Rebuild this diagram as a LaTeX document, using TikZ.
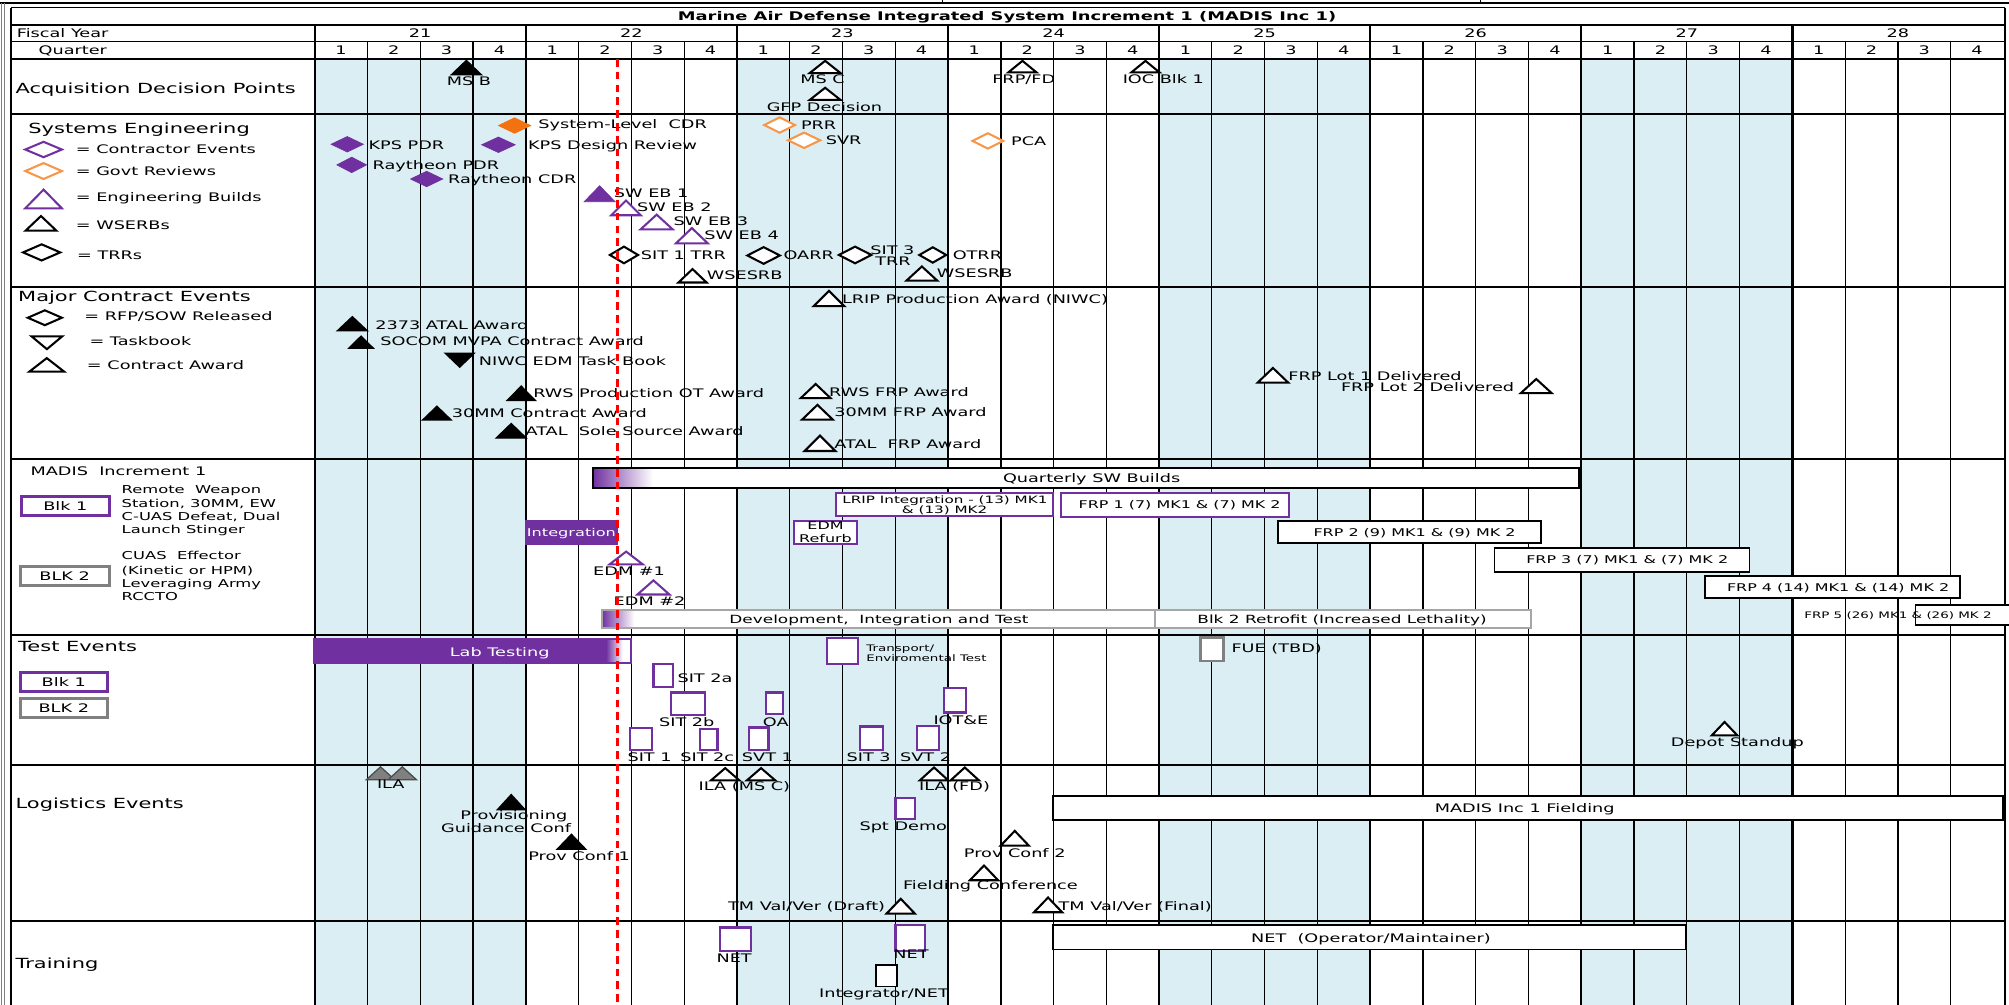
\documentclass[tikz,border=0pt]{standalone}
\usepackage{fontspec}
\setmainfont[FakeStretch=1.5]{DejaVu Sans}
\definecolor{purp}{HTML}{7030A0}
\definecolor{lblue}{HTML}{DAEEF3}
\definecolor{orng}{HTML}{F79646}
\definecolor{orngf}{HTML}{F27212}
\definecolor{gry}{HTML}{808080}
\definecolor{lgry}{HTML}{A6A6A6}
\newcommand{\mtri}[5][]{\draw[#1] ({#2-#4},{#3+#5}) -- (#2,#3) -- ({#2+#4},{#3+#5}) -- cycle;}
\newcommand{\mdtri}[5][]{\draw[#1] ({#2-#4},#3) -- ({#2+#4},#3) -- (#2,{#3+#5}) -- cycle;}
\newcommand{\mdia}[5][]{\draw[#1] ({#2-#4},#3) -- (#2,{#3-#5}) -- ({#2+#4},#3) -- (#2,{#3+#5}) -- cycle;}
\begin{document}
\begin{tikzpicture}[x=1pt,y=-1pt,
  lbl/.style={font=\fontsize{9.2}{10}\selectfont, inner sep=0pt, text height=6.7pt, text depth=0pt, anchor=west},
  clbl/.style={lbl, anchor=center},
  rlbl/.style={lbl, anchor=east},
  hdr/.style={font=\fontsize{10.9}{12}\selectfont, inner sep=0pt, text height=7.95pt, text depth=0pt, anchor=west},
  smd/.style={font=\fontsize{8.3}{9}\selectfont, inner sep=0pt, text height=6.05pt, text depth=0pt, anchor=center},
  sml/.style={font=\fontsize{7}{8}\selectfont, inner sep=0pt, text height=5.1pt, text depth=0pt, anchor=west},
  ttl/.style={font=\bfseries\fontsize{9.3}{10}\selectfont, inner sep=0pt, text height=6.8pt, text depth=0pt, anchor=center},
  blk/.style={fill=black, draw=black, line width=0.8pt},
  opn/.style={draw=black, fill=white, line width=1.6pt},
  popn/.style={draw=purp, fill=white, line width=1.6pt},
  pfil/.style={fill=purp, draw=purp, line width=0.6pt},
  oopn/.style={draw=orng, fill=white, line width=1.6pt},
  ofil/.style={fill=orngf, draw=orngf, line width=0.6pt},
  gtri/.style={fill=gray, draw=black!70, line width=1pt},
  pbox/.style={draw=purp, fill=white, line width=1.8pt},
  kbox/.style={draw=black, fill=white, line width=1.4pt},
  gbox/.style={draw=gry, fill=white, line width=1.8pt},
  qline/.style={line width=0.9pt},
  yline/.style={line width=1.8pt},
  sline/.style={line width=1.6pt}
]
\useasboundingbox (0,0) rectangle (1568,784);
\fill[white] (0,0) rectangle (1568,784);
% shading of alternate years
\foreach \k in {0,2,4,6} {\fill[lblue] ({245.6+\k*4*41.19},46) rectangle ({245.6+(\k*4+4)*41.19},784);}
% outer frame
\draw[line width=1.4pt] (0,2.6) -- (1568,2.6);
\draw[line width=0.8pt] (735.5,0) -- (735.5,2.6);
\draw[line width=0.8pt] (1155.8,0) -- (1155.8,2.6);
\draw[gry, line width=0.8pt] (1,2.6) -- (1,784);
\draw[gry, line width=0.8pt] (3.6,2.6) -- (3.6,784);
% quarter lines
\foreach \i in {1,...,31} {\draw[qline] ({245.6+\i*41.19},32.5) -- ({245.6+\i*41.19},784);}
\foreach \i in {13,14} {\draw[line width=1.4pt] ({245.6+\i*41.19},32.5) -- ({245.6+\i*41.19},784);}
\foreach \i in {0,4,8,12,16,20,24,28} {\draw[yline] ({245.6+\i*41.19},19.5) -- ({245.6+\i*41.19},784);}
% horizontal lines
\draw[line width=1.2pt] (8.7,6) -- (1564.7,6);
\draw[line width=1.4pt] (8.7,19.5) -- (1564.7,19.5);
\draw[line width=1.2pt] (8.7,32.5) -- (1564.7,32.5);
\foreach \yy in {46,89,224,358.5,495.6,597,719} {\draw[sline] (8.7,\yy) -- (1564.7,\yy);}
\draw[line width=1.4pt] (8.7,6) -- (8.7,784);
\draw[line width=1.4pt] (1564.7,6) -- (1564.7,784);
% header texts
\node[ttl] (title) at (786,12.8) {Marine Air Defense Integrated System Increment 1 (MADIS Inc 1)};
\node[lbl] (fyl) at (13,26) {Fiscal Year};
\node[lbl] (qtl) at (30,39.2) {Quarter};
\foreach \yr [count=\k from 0] in {21,...,28} {\node[clbl] (fy\yr) at ({245.6+(\k*4+2)*41.19},26) {\yr};}
\foreach \i in {0,...,31} {\pgfmathtruncatemacro\qn{mod(\i,4)+1}\node[clbl] (q\i) at ({245.6+(\i+0.5)*41.19},39.2) {\qn};}
% section headings
\node[hdr] (hadp) at (12,69) {Acquisition Decision Points};
\node[hdr] (hse) at (22,100) {Systems Engineering};
\node[hdr] (hmce) at (14,231.5) {Major Contract Events};
\node[lbl] (hmadis) at (23.7,367.6) {MADIS\ \ Increment 1};
\node[hdr] (hte) at (14,504.7) {Test Events};
\node[hdr] (hle) at (12,627) {Logistics Events};
\node[hdr] (htr) at (12,752) {Training};
% ===== Acquisition Decision Points
\mtri[blk]{364}{47}{12}{11.5}
\node[clbl] (msb) at (366,63) {MS B};
\mtri[opn]{644}{47.5}{12}{9.5}
\node[clbl] (msc) at (642,62) {MS C};
\mtri[opn]{644}{68.5}{12}{9.5}
\node[clbl] (gfp) at (643.5,84) {GFP Decision};
\mtri[opn]{798}{47.5}{11}{9}
\node[clbl] (frpfd) at (799,62) {FRP/FD};
\mtri[opn]{894}{47.5}{11}{9}
\node[clbl] (ioc) at (908,62) {IOC Blk 1};
% ===== Systems Engineering legend
\mdia[popn]{34}{116.7}{14.3}{6}
\node[lbl] (lg1) at (59,116.7) {= Contractor Events};
\mdia[oopn]{34}{133.5}{14.3}{6.2}
\node[lbl] (lg2) at (59,133.5) {= Govt Reviews};
\mtri[popn]{34}{148}{14.3}{14.6}
\node[lbl] (lg3) at (59,154) {= Engineering Builds};
\mtri[opn]{32}{168.6}{12}{11.4}
\node[lbl] (lg4) at (59,175.6) {= WSERBs};
\mdia[opn]{32.5}{197}{14.5}{6.3}
\node[lbl] (lg5) at (60,199) {= TRRs};
% SE items
\mdia[ofil]{401.6}{98}{12.5}{6}
\node[lbl] (slcdr) at (420,97) {System-Level\ \ CDR};
\mdia[pfil]{271}{112.6}{12.5}{6}
\node[lbl] (kpspdr) at (287.5,113) {KPS PDR};
\mdia[pfil]{389}{113}{13}{6}
\node[lbl] (kpsdr) at (412,113) {KPS Design Review};
\mdia[pfil]{274.5}{128.7}{11.5}{6}
\node[lbl] (rpdr) at (290.7,128.8) {Raytheon PDR};
\mdia[pfil]{333}{139.7}{12.5}{6}
\node[lbl] (rcdr) at (349.6,139.7) {Raytheon CDR};
\mtri[pfil]{468}{145}{12}{12.4}
\node[lbl] (eb1) at (479,151) {SW EB 1};
\mtri[popn]{488.6}{156.5}{11.5}{11.5}
\node[lbl] (eb2) at (497,161.8) {SW EB 2};
\mtri[popn]{512.5}{167.5}{12.5}{11.5}
\node[lbl] (eb3) at (525.6,172.5) {SW EB 3};
\mtri[popn]{540}{178}{12.5}{12}
\node[lbl] (eb4) at (549.5,183.4) {SW EB 4};
\mdia[opn]{487}{199}{11}{6.5}
\node[lbl] (sit1trr) at (500,199) {SIT 1 TRR};
\mdia[opn]{596}{199.4}{12.7}{6.5}
\node[lbl] (oarr) at (611.4,199.4) {OARR};
\mdia[opn]{667.4}{199}{12.7}{6.5}
\node[clbl] (sit3a) at (696.5,195) {SIT 3};
\node[clbl] (sit3b) at (697,204.2) {TRR};
\mdia[opn]{728}{199}{10.5}{6}
\node[lbl] (otrr) at (743.4,199) {OTRR};
\mtri[opn]{540.5}{210}{11}{10.5}
\node[lbl] (wsesrb1) at (551.5,214.6) {WSESRB};
\mtri[opn]{719.5}{208}{12}{11}
\node[lbl] (wsesrb2) at (731,213.3) {WSESRB};
\mdia[oopn]{608.5}{97.6}{12}{6}
\node[lbl] (prr) at (625,97.6) {PRR};
\mdia[oopn]{627.6}{109.5}{12.5}{6}
\node[lbl] (svr) at (644.3,109.3) {SVR};
\mdia[oopn]{771}{110}{12}{6}
\node[lbl] (pca) at (789,110) {PCA};
% ===== Major Contract Events legend
\mdia[opn]{35}{248}{13.3}{5.8}
\node[lbl] (mlg1) at (65.7,247) {= RFP/SOW Released};
\mdtri[opn]{36.6}{262.5}{12}{10}
\node[lbl] (mlg2) at (69.7,266.6) {= Taskbook};
\mtri[opn]{36.5}{279.5}{13.5}{10.5}
\node[lbl] (mlg3) at (67.7,284.9) {= Contract Award};
% MCE items
\mtri[blk]{275}{247}{12}{11.3}
\node[lbl] (atal2373) at (292.7,253.6) {2373 ATAL Award};
\mtri[blk]{281.8}{262.2}{9.75}{9.6}
\node[lbl] (socom) at (296.7,266) {SOCOM MVPA Contract Award};
\mdtri[blk]{358.8}{275.7}{11.5}{11}
\node[lbl] (niwc) at (373.5,281.7) {NIWC EDM Task Book};
\mtri[blk]{406.8}{301.2}{11.3}{11.5}
\node[lbl] (rwsot) at (416,307) {RWS Production OT Award};
\mtri[blk]{341}{316.9}{11.3}{10.9}
\node[lbl] (mm30) at (352.4,322.6) {30MM Contract Award};
\mtri[blk]{399}{330.4}{12}{11.6}
\node[lbl] (atalss) at (410,336.9) {ATAL\ \ Sole Source Award};
\mtri[opn]{647}{227}{12}{12}
\node[lbl] (lrip) at (657,233.6) {LRIP Production Award (NIWC)};
\mtri[opn]{636.6}{299.7}{11.6}{11}
\node[lbl] (rwsfrp) at (647,306.4) {RWS FRP Award};
\mtri[opn]{638}{316}{12}{11.5}
\node[lbl] (mmfrp) at (651,322) {30MM FRP Award};
\mtri[opn]{640}{340}{12}{12}
\node[lbl] (atalfrp) at (651,346.5) {ATAL\ \ FRP Award};
\mtri[opn]{993.5}{287.2}{12}{11.5}
\node[lbl] (lot1) at (1005.4,293.4) {FRP Lot 1 Delivered};
\mtri[opn]{1199}{295.8}{12}{11}
\node[rlbl] (lot2) at (1182,302.3) {FRP Lot 2 Delivered};
% ===== MADIS Increment 1
\draw[pbox, line width=2.2pt] (16.7,387.6) rectangle (85.4,402.5);
\node[clbl] (blk1a) at (51,395) {Blk 1};
\draw[gbox, line width=2.2pt] (15.7,442.3) rectangle (85.4,457.1);
\node[clbl] (blk2a) at (50.5,449.7) {BLK 2};
\begin{scope}[every node/.style={font=\fontsize{8.5}{9}\selectfont, inner sep=0pt, text height=6.2pt, text depth=0pt, anchor=west}]
\node (d1) at (94.8,381.9) {Remote\ \ Weapon};
\node (d2) at (94.8,392.8) {Station, 30MM, EW};
\node (d3) at (94.8,403.2) {C-UAS Defeat, Dual};
\node (d4) at (94.8,413.6) {Launch Stinger};
\node (d5) at (94.8,433.7) {CUAS\ \ Effector};
\node (d6) at (94.8,444.9) {(Kinetic or HPM)};
\node (d7) at (94.8,455.3) {Leveraging Army};
\node (d8) at (94.8,465.7) {RCCTO};
\end{scope}
\fill[white] (462.7,365.5) rectangle (1232.5,380.6);
\shade[left color=purp, right color=white] (462.7,365.5) rectangle (509.5,380.6);
\draw[line width=1.5pt] (462.7,365.5) rectangle (1232.5,380.6);
\node[clbl] (qsw) at (852,373.3) {Quarterly SW Builds};
\fill[purp] (409.4,405.8) rectangle (482.5,425.4);
\node[smd, text=white, font=\fontsize{8.4}{9}\selectfont] (integ) at (446,415.5) {Integration};
\draw[pbox, line width=1.5pt] (652.5,385) rectangle (822,402.5);
\node[smd, font=\fontsize{7.9}{8}\selectfont] (lripi1) at (737.5,389.7) {LRIP Integration - (13) MK1};
\node[smd, font=\fontsize{7.9}{8}\selectfont] (lripi2) at (737.3,398) {\& (13) MK2};
\draw[pbox, line width=1.5pt] (828,385) rectangle (1006,403.2);
\node[smd] (frp1) at (920.7,394.1) {FRP 1 (7) MK1 \& (7) MK 2};
\draw[pbox, line width=1.5pt] (619.6,406.6) rectangle (669,424.6);
\node[smd] (edmr1) at (644.3,410.3) {EDM};
\node[smd] (edmr2) at (644.3,420.2) {Refurb};
\draw[kbox] (997.5,406.6) rectangle (1203,424);
\node[smd] (frp2) at (1104,415.7) {FRP 2 (9) MK1 \& (9) MK 2};
\draw[kbox] (1166.4,428) rectangle (1365.5,446.2);
\node[smd] (frp3) at (1270,437.1) {FRP 3 (7) MK1 \& (7) MK 2};
\draw[kbox] (1330.7,449.3) rectangle (1530,467);
\node[smd] (frp4) at (1434.6,458.4) {FRP 4 (14) MK1 \& (14) MK 2};
\draw[kbox] (1495,472) rectangle (1580,488);
\node[sml] (frp5) at (1408,480) {FRP 5 (26) MK1 \& (26) MK 2};
\mtri[popn]{488.7}{430.5}{13}{10}
\node[clbl] (edm1) at (491,446.2) {EDM \#1};
\mtri[popn]{510}{453}{12.5}{11}
\node[clbl] (edm2) at (507,469) {EDM \#2};
\fill[white] (469.6,476) rectangle (1194.7,490);
\shade[left color=purp, right color=white] (469.6,476) rectangle (495,490);
\draw[lgry, line width=1.6pt] (469.6,476) rectangle (901.5,490);
\draw[lgry, line width=1.6pt] (901.5,476) rectangle (1194.7,490);
\node[smd, font=\fontsize{8.8}{9}\selectfont] (dev) at (686,483.4) {Development,\ \ Integration and Test};
\node[smd, font=\fontsize{8.8}{9}\selectfont] (ret) at (1047.5,483.4) {Blk 2 Retrofit (Increased Lethality)};
% ===== Test Events
\draw[pbox, line width=2.2pt] (16,525) rectangle (83.6,540);
\node[clbl] (blk1b) at (49.8,532.5) {Blk 1};
\draw[gbox, line width=2.2pt] (16,545) rectangle (83.6,560);
\node[clbl] (blk2b) at (49.8,552.5) {BLK 2};
\fill[purp] (245,499) rectangle (473,517.7);
\fill[white] (473,499) rectangle (492.8,517.7);
\shade[left color=purp, right color=white] (473,499) rectangle (486,517.7);
\draw[purp, line width=1.5pt] (245,499) rectangle (492.8,517.7);
\node[clbl, text=white] (lab) at (390,509.4) {Lab Testing};
\draw[pbox] (645.6,498) rectangle (669.5,518.2);
\node[sml] (trans1) at (676,506) {Transport/};
\node[sml] (trans2) at (676,513.8) {Enviromental Test};
\draw[pbox] (510,518.2) rectangle (525,536);
\node[lbl] (sit2a) at (528.6,529.4) {SIT 2a};
\draw[pbox] (523.6,540.4) rectangle (550,558);
\node[clbl] (sit2b) at (536,563.3) {SIT 2b};
\draw[pbox] (598,540.6) rectangle (611,557.3);
\node[clbl] (oa) at (605.5,563.3) {OA};
\draw[pbox] (736.7,537.2) rectangle (754,556);
\node[clbl] (iote) at (750,562) {IOT\&E};
\draw[pbox] (491.8,568) rectangle (509,585.4);
\node[clbl] (sit1) at (507,591.1) {SIT 1};
\draw[pbox] (546.5,569.2) rectangle (560,585.4);
\node[clbl] (sit2c) at (552,591.1) {SIT 2c};
\draw[pbox] (584.8,567.7) rectangle (599.8,585.4);
\node[clbl] (svt1) at (599,591.1) {SVT 1};
\draw[pbox] (671,567) rectangle (689.4,585.4);
\node[clbl] (sit3) at (678,591.1) {SIT 3};
\draw[pbox] (715.8,566.6) rectangle (732.7,585.4);
\node[clbl] (svt2) at (722.4,591.1) {SVT 2};
\draw[gbox] (937,497.5) rectangle (955,516);
\node[lbl] (fue) at (961,506) {FUE (TBD)};
\mtri[opn]{1346}{563.5}{10}{10.5}
\node[clbl] (depot) at (1356,579) {Depot Standup};
% ===== Logistics Events
\mtri[gtri]{297}{598.5}{11}{10}
\mtri[gtri]{314}{598.5}{11}{10}
\node[clbl] (ila1) at (305,612) {ILA};
\mtri[blk]{399}{620}{11}{12}
\node[clbl] (prov1) at (401,636) {Provisioning};
\node[clbl] (prov2) at (395,646.5) {Guidance Conf};
\mtri[blk]{446}{651}{11.5}{12}
\node[clbl] (pc1) at (452,668) {Prov Conf 1};
\mtri[opn]{566}{599.5}{11}{9.5}
\mtri[opn]{594}{599.5}{11}{9.5}
\node[clbl] (ila2) at (581,614) {ILA (MS C)};
\draw[pbox] (699,623) rectangle (714,639);
\node[clbl] (spt) at (705,645) {Spt Demo};
\mtri[opn]{729}{599}{11}{10}
\mtri[opn]{753}{599}{11}{10}
\node[clbl] (ila3) at (745,614) {ILA (FD)};
\mtri[opn]{792}{648.5}{11}{11.5}
\node[clbl] (pc2) at (792,666) {Prov Conf 2};
\mtri[opn]{768}{675.5}{11}{11.5}
\node[clbl] (fc) at (773,691) {Fielding Conference};
\mtri[opn]{703}{701.5}{11}{11.5}
\node[rlbl] (tmd) at (691,707) {TM Val/Ver (Draft)};
\mtri[opn]{818}{700.5}{11}{11.5}
\node[lbl] (tmf) at (826,707) {TM Val/Ver (Final)};
\draw[kbox] (822,621) rectangle (1563,640);
\node[clbl] (field) at (1190,631) {MADIS Inc 1 Fielding};
% ===== Training
\draw[pbox] (562,724) rectangle (586,742);
\node[clbl] (net1) at (573,748) {NET};
\draw[pbox] (699,722) rectangle (722,742);
\node[clbl] (net2) at (711,745) {NET};
\draw[kbox] (822,722) rectangle (1316,741);
\node[clbl] (netop) at (1070,732) {NET\ \ (Operator/Maintainer)};
\draw[kbox] (684,753) rectangle (700,770);
\node[clbl] (intnet) at (690,775) {Integrator/NET};
% ===== today line
\draw[red, line width=2pt, dash pattern=on 6pt off 4pt] (482,46) -- (482,784);
\end{tikzpicture}
\end{document}
